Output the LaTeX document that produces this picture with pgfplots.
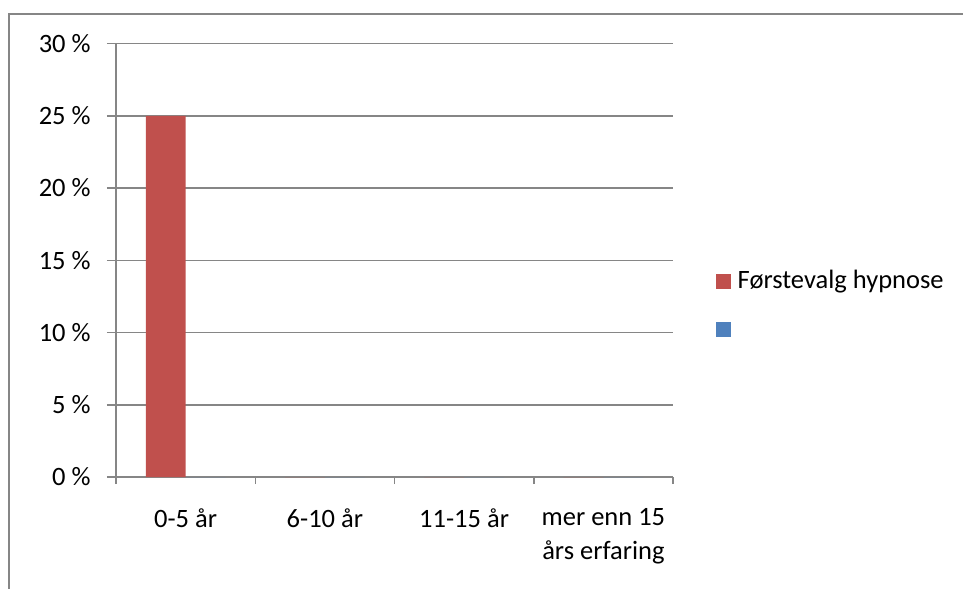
\documentclass[border=0pt]{standalone}
\usepackage{pgfplots}
\pgfplotsset{compat=1.18}
\usepackage{fontspec}
\setmainfont{Carlito}
\definecolor{exred}{HTML}{C0504D}
\definecolor{exblue}{HTML}{4F81BD}
\definecolor{exgray}{HTML}{868686}
\begin{document}
\begin{tikzpicture}
\useasboundingbox (0,0) rectangle (963bp,-589bp);
\fill[white] (0,0) rectangle (963bp,-589bp);
\draw[exgray, line width=2bp] (9bp,-600bp) -- (9bp,-13.5bp) -- (975bp,-13.5bp);
\begin{axis}[
  at={(116bp,-477bp)}, anchor=south west,
  scale only axis, width=557bp, height=433.5bp,
  xmin=-0.5, xmax=3.5, ymin=0, ymax=30,
  ybar=0pt, bar width=39.8bp,
  axis x line*=bottom, axis y line*=left,
  axis line style={exgray, line width=1.5bp, -},
  xtick={-0.5,0.5,1.5,2.5,3.5},
  x tick label as interval,
  xticklabels={{0-5 år},{6-10 år},{11-15 år},{mer enn 15\\års erfaring}},
  ytick={0,5,...,30},
  tick style={exgray, line width=1.5bp},
  tick align=outside,
  x tick style={/pgfplots/major tick length=7bp},
  y tick style={/pgfplots/major tick length=9bp},
  ymajorgrids, grid style={exgray, line width=1.5bp},
  /pgf/number format/assume math mode=true,
  yticklabel={\pgfmathprintnumber{\tick}~\%},
  tick label style={font=\fontsize{26.5bp}{34bp}\selectfont, text=black},
  xticklabel style={align=center, anchor=north, inner sep=0pt, yshift=-27bp},
  yticklabel style={anchor=east, inner sep=0pt, xshift=-21bp},
  legend style={at={(1.0772,0.4867)}, anchor=north west, draw=none, fill=none,
    inner sep=0pt, row sep=17bp, column sep=0pt,
    font=\fontsize{26.5bp}{34bp}\selectfont,
    nodes={inner ysep=3bp, inner xsep=6.5bp, text height=19bp, text depth=6bp}},
  legend cell align=left,
  legend image code/.code={\fill[#1,draw=none] (0bp,-7.5bp) rectangle (15bp,7.5bp);},
]
\addplot[fill=exred, draw=none] coordinates {(0,25) (1,0) (2,0) (3,0)};
\addlegendentry{Førstevalg hypnose}
\addplot[fill=exblue, draw=none] coordinates {(0,0) (1,0) (2,0) (3,0)};
\addlegendentry{\mbox{}}
\end{axis}
\end{tikzpicture}
\end{document}
